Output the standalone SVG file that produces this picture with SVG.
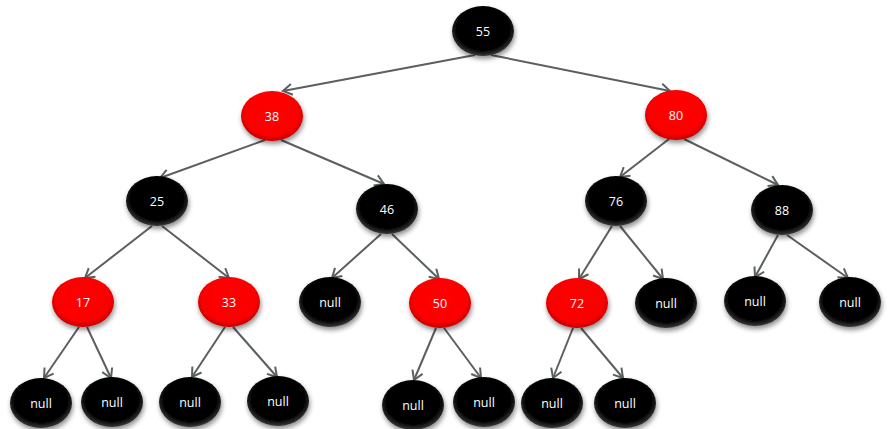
<svg xmlns="http://www.w3.org/2000/svg" width="894" height="429" viewBox="0 0 894 429">
<defs>
<radialGradient id="gb" cx="50%" cy="45%" r="55%">
<stop offset="0" stop-color="#000"/>
<stop offset="0.8" stop-color="#050505"/>
<stop offset="1" stop-color="#3a3a3a"/>
</radialGradient>
<radialGradient id="gr" cx="50%" cy="45%" r="55%">
<stop offset="0" stop-color="#ff0000"/>
<stop offset="0.8" stop-color="#fa0000"/>
<stop offset="1" stop-color="#c00000"/>
</radialGradient>
<filter id="sh" x="-30%" y="-30%" width="160%" height="170%">
<feGaussianBlur in="SourceAlpha" stdDeviation="2.5"/>
<feOffset dx="1" dy="3" result="b"/>
<feComponentTransfer><feFuncA type="linear" slope="0.45"/></feComponentTransfer>
<feMerge><feMergeNode/><feMergeNode in="SourceGraphic"/></feMerge>
</filter>
<marker id="arr" markerWidth="14" markerHeight="14" refX="11" refY="7" orient="auto" markerUnits="userSpaceOnUse">
<path d="M2,1.5 L11,7 L2,12.5" fill="none" stroke="#5a5f5f" stroke-width="2"/>
</marker>
</defs>
<style>
.b{fill:url(#gb);filter:url(#sh)}
.r{fill:url(#gr);filter:url(#sh)}
text{font-family:"Open Sans","Liberation Sans",sans-serif;font-size:12.5px;fill:#fff;text-anchor:middle;dominant-baseline:central}
.e line{stroke:#5a5f5f;stroke-width:2;marker-end:url(#arr)}
</style>
<rect width="894" height="429" fill="#fff"/>
<g class="e" id="edges">
<line x1="475" y1="55" x2="283" y2="91"/>
<line x1="491" y1="55" x2="670" y2="91"/>
<line x1="265" y1="140" x2="160" y2="178"/>
<line x1="281" y1="140" x2="384" y2="184"/>
<line x1="669" y1="139" x2="620" y2="177"/>
<line x1="684" y1="139" x2="778" y2="185"/>
<line x1="152" y1="226" x2="85" y2="278"/>
<line x1="162" y1="226" x2="229" y2="278"/>
<line x1="381" y1="234" x2="332" y2="278"/>
<line x1="392" y1="234" x2="439" y2="279"/>
<line x1="612" y1="226" x2="579" y2="279"/>
<line x1="620" y1="226" x2="663" y2="279"/>
<line x1="778" y1="235" x2="755" y2="277"/>
<line x1="787" y1="235" x2="848" y2="278"/>
<line x1="79" y1="327" x2="44" y2="378"/>
<line x1="87" y1="327" x2="111" y2="378"/>
<line x1="225" y1="327" x2="192" y2="377"/>
<line x1="233" y1="327" x2="277" y2="377"/>
<line x1="436" y1="328" x2="414" y2="380"/>
<line x1="444" y1="328" x2="481" y2="378"/>
<line x1="573" y1="328" x2="553" y2="378"/>
<line x1="581" y1="328" x2="623" y2="378"/>
</g>
<g id="n55"><ellipse class="b" cx="483" cy="31" rx="31" ry="25"/><text x="483" y="31">55</text></g>
<g id="n38"><ellipse class="r" cx="272" cy="116" rx="31" ry="25"/><text x="272" y="116">38</text></g>
<g id="n80"><ellipse class="r" cx="676" cy="115" rx="31" ry="25"/><text x="676" y="115">80</text></g>
<g id="n25"><ellipse class="b" cx="157" cy="201" rx="31" ry="25"/><text x="157" y="201">25</text></g>
<g id="n46"><ellipse class="b" cx="387" cy="209" rx="31" ry="25"/><text x="387" y="209">46</text></g>
<g id="n76"><ellipse class="b" cx="616" cy="201" rx="31" ry="25"/><text x="616" y="201">76</text></g>
<g id="n88"><ellipse class="b" cx="782" cy="210" rx="31" ry="25"/><text x="782" y="210">88</text></g>
<g id="n17"><ellipse class="r" cx="83" cy="302" rx="31" ry="25"/><text x="83" y="302">17</text></g>
<g id="n33"><ellipse class="r" cx="229" cy="302" rx="31" ry="25"/><text x="229" y="302">33</text></g>
<g id="n46L"><ellipse class="b" cx="330" cy="302" rx="31" ry="25"/><text x="330" y="302">null</text></g>
<g id="n50"><ellipse class="r" cx="440" cy="303" rx="31" ry="25"/><text x="440" y="303">50</text></g>
<g id="n72"><ellipse class="r" cx="577" cy="303" rx="31" ry="25"/><text x="577" y="303">72</text></g>
<g id="n76R"><ellipse class="b" cx="666" cy="303" rx="31" ry="25"/><text x="666" y="303">null</text></g>
<g id="n88L"><ellipse class="b" cx="755" cy="301" rx="31" ry="25"/><text x="755" y="301">null</text></g>
<g id="n88R"><ellipse class="b" cx="850" cy="302" rx="31" ry="25"/><text x="850" y="302">null</text></g>
<g id="n17L"><ellipse class="b" cx="41" cy="403" rx="31" ry="25"/><text x="41" y="403">null</text></g>
<g id="n17R"><ellipse class="b" cx="112" cy="402" rx="31" ry="25"/><text x="112" y="402">null</text></g>
<g id="n33L"><ellipse class="b" cx="190" cy="402" rx="31" ry="25"/><text x="190" y="402">null</text></g>
<g id="n33R"><ellipse class="b" cx="278" cy="401" rx="31" ry="25"/><text x="278" y="401">null</text></g>
<g id="n50L"><ellipse class="b" cx="413" cy="405" rx="31" ry="25"/><text x="413" y="405">null</text></g>
<g id="n50R"><ellipse class="b" cx="484" cy="402" rx="31" ry="25"/><text x="484" y="402">null</text></g>
<g id="n72L"><ellipse class="b" cx="552" cy="403" rx="31" ry="25"/><text x="552" y="403">null</text></g>
<g id="n72R"><ellipse class="b" cx="625" cy="403" rx="31" ry="25"/><text x="625" y="403">null</text></g>
</svg>
